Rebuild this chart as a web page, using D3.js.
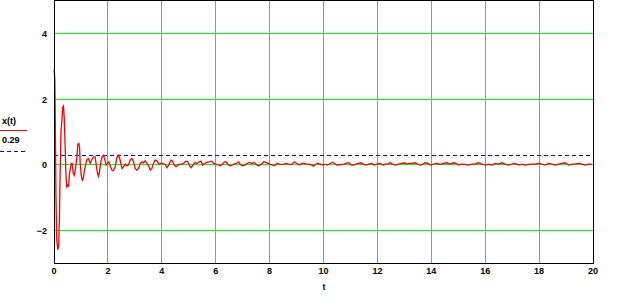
<!DOCTYPE html>
<html><head><meta charset="utf-8">
<script src="https://cdn.jsdelivr.net/npm/d3@7"></script>
<style>html,body{margin:0;padding:0;background:#fff;}svg{display:block;}text{font-family:"Liberation Sans",Arial,sans-serif;font-weight:bold;font-size:9px;fill:#000;}</style>
</head><body><svg id="c" width="633" height="307"></svg>
<script>
const tValues = [0,0.03,0.05,0.07,0.09,0.12,0.16,0.19,0.22,0.25,0.28,0.31,0.34,0.37,0.40,0.43,0.46,0.49,0.53,0.558,0.595,0.62,0.657,0.694,0.731,0.768,0.818,0.867,0.904,0.941,0.966,0.99,1.028,1.077,1.114,1.151,1.189,1.238,1.3,1.362,1.424,1.485,1.547,1.584,1.634,1.671,1.708,1.758,1.807,1.857,1.906,1.956,2.005,2.055,2.104,2.166,2.228,2.29,2.351,2.413,2.475,2.537,2.599,2.66,2.72,2.78,2.846,2.908,2.97,3.03,3.09,3.155,3.22,3.28,3.34,3.40,3.465,3.53,3.59,3.65,3.71,3.77,3.84,3.9,3.96,
4.02,4.15,4.21,4.27,4.36,4.42,4.48,4.55,4.64,4.73,4.83,4.91,4.98,5.05,5.11,5.17,5.26,5.32,5.41,5.47,5.54,5.61,5.69,5.79,5.88,5.94,6.04,6.13,6.19,6.25,6.34,6.41,6.47,6.56,6.68,6.78,6.87,6.93,7.02,7.09,7.18,7.26,7.36,7.45,7.52,7.61,7.71,7.80,7.88,7.96,8.04,8.13,8.2,8.29,8.38,8.54,8.64,8.72,8.85,8.93,9.03,9.12,
9.22,9.30,9.40,9.50,9.59,9.65,9.71,9.80,9.90,9.99,10.08,10.17,10.27,10.35,10.43,10.51,10.61,10.70,10.79,10.89,10.97,11.03,11.13,11.22,11.32,11.41,11.50,11.60,11.69,11.81,11.90,12.0,12.12,12.22,12.31,12.40,12.49,12.58,12.68,12.80,12.93,13.01,13.11,13.20,13.30,13.42,13.51,13.61,13.71,13.79,13.89,13.98,14.10,14.23,14.35,14.47,14.60,14.70,
14.84,14.94,15.03,15.15,15.28,15.40,15.52,15.65,15.77,15.90,16.02,16.14,16.27,16.39,16.51,16.64,16.76,16.88,17.01,17.13,17.26,17.38,17.50,17.63,17.75,17.87,18.0,18.12,18.25,18.37,18.49,18.62,18.74,18.86,18.99,19.11,19.24,19.36,19.48,19.61,19.73,19.85,19.98];
const xValues = [2.85,2.85,2.57,1.05,-0.86,-2.3,-2.6,-2.5,-1.65,-0.12,1.05,1.3,1.74,1.78,1.4,0.59,-0.27,-0.68,-0.63,-0.68,-0.27,-0.15,0.03,0.03,-0.27,-0.33,-0.12,0.23,0.62,0.64,0.54,0.03,-0.33,-0.51,-0.38,-0.17,-0.02,0.15,0.18,0.03,0.15,0.23,0.23,-0.02,-0.27,-0.36,-0.22,0.08,0.25,0.28,0.13,-0.02,0.03,0.08,-0.05,-0.17,-0.19,-0.07,0.21,0.28,0.13,-0.12,-0.07,0.01,-0.04,-0.02,0.13,0.18,0.08,-0.12,-0.17,-0.12,0.03,0.08,0.05,0.11,0.03,-0.04,-0.17,-0.12,0.03,0.13,0.11,0.01,0.03,
0.03,0,-0.1,-0.02,0.13,0.1,-0.02,-0.07,0,0,0.03,0.1,0.08,-0.04,-0.1,-0.02,0.06,0.03,0.08,0.1,-0.02,0.03,0.06,0.08,0.1,0.03,0,-0.02,-0.04,0,0.08,0.08,0,-0.04,0,0.03,0.08,0,-0.04,-0.02,0.03,0.06,0.03,0.06,0,-0.04,0,0.08,0.06,0.03,0,-0.02,-0.04,0.03,0.01,0,0.03,0,0,0.08,0.03,-0.02,
0.03,0.03,0,0.01,-0.02,-0.05,0,0.03,0.01,-0.02,0.01,-0.02,0.03,0.07,0.03,-0.02,-0.01,0,0.01,0.05,0.05,-0.01,-0.02,0.01,0.03,0.05,0.01,-0.02,0.01,0.03,-0.02,0.01,0.03,-0.02,0.01,0.01,0.05,0.01,-0.02,0.01,0.03,0.05,0.01,0.03,0.03,0.05,0.01,-0.02,0.01,0.05,0.03,-0.02,0.01,0.03,0,0.03,0.05,0.01,
0.05,0.03,-0.02,0.01,0,-0.02,0.01,0.01,0.05,0.01,-0.02,0.01,-0.02,0.03,0.01,0.05,0.01,-0.02,0.01,0.03,-0.02,0.01,-0.02,0,0.01,0.01,0.03,0.01,-0.02,0.03,0.01,-0.02,0.01,0.03,0.05,-0.02,0.01,0.01,0.03,0.01,-0.02,0.01,0];
const refLevel = 0.29;
const xTicks = [0,2,4,6,8,10,12,14,16,18,20];
const yTicks = [-2,0,2,4];
const xLabel = "t";
const legendLabels = ["x(t)", "0.29"];

const svg = d3.select("#c");
const x = d3.scaleLinear().domain([0,20]).range([53.5,592.5]);
const y = d3.scaleLinear().domain([-3,5]).range([262.8,0.5]);
const px = v => Math.round(x(v)) + 0.5;
const py = v => Math.round(y(v)) + 0.5;

// grid
const g = svg.append("g").attr("shape-rendering","crispEdges");
g.selectAll(".gx").data(xTicks.filter(d=>d>0&&d<20)).enter().append("line")
  .attr("x1",d=>px(d)).attr("x2",d=>px(d)).attr("y1",y(5)).attr("y2",y(-3))
  .attr("stroke","#00ff00").attr("stroke-width",1);
g.selectAll(".gy").data(yTicks).enter().append("line")
  .attr("x1",x(0)).attr("x2",x(20)).attr("y1",d=>py(d)).attr("y2",d=>py(d))
  .attr("stroke","#00ff00").attr("stroke-width",1);

// reference dashed line
svg.append("line").attr("x1",x(0)).attr("x2",x(20)).attr("y1",py(refLevel)).attr("y2",py(refLevel))
  .attr("shape-rendering","crispEdges")
  .attr("stroke","#0000ff").attr("stroke-width",1).attr("stroke-dasharray","4,3");

// signal
const data = tValues.map((t,i)=>[t,xValues[i]]);
svg.append("path").datum(data)
  .attr("d", d3.line().x(d=>x(d[0])).y(d=>y(d[1])))
  .attr("fill","none").attr("stroke","#ff0000").attr("stroke-width",1.3);

// frame
svg.append("rect").attr("x",px(0)).attr("y",0.5).attr("width",px(20)-px(0)).attr("height",py(-3)-0.5)
  .attr("shape-rendering","crispEdges")
  .attr("fill","none").attr("stroke","#000").attr("stroke-width",1);

// axes labels (using d3 axes)
const xAxis = d3.axisBottom(x).tickValues(xTicks).tickSize(0).tickPadding(0).tickFormat(d3.format("d"));
const xa = svg.append("g").attr("transform","translate(0,274)").call(xAxis);
xa.select(".domain").remove();
xa.selectAll("text").attr("dy",0).attr("font-family",null).attr("font-size",null);

const yAxis = d3.axisLeft(y).tickValues(yTicks).tickSize(0).tickPadding(0).tickFormat(d => d<0 ? "\u2212" + String(-d) : String(d));
const ya = svg.append("g").attr("transform","translate(47,0)").call(yAxis);
ya.select(".domain").remove();
ya.selectAll("text").attr("dy","0.35em").attr("font-family",null).attr("font-size",null);

svg.append("text").attr("x",324).attr("y",290).attr("text-anchor","middle").text(xLabel);

// legend
svg.append("text").attr("x",2).attr("y",124).text(legendLabels[0]);
svg.append("line").attr("x1",0).attr("x2",27).attr("y1",130.5).attr("y2",130.5).attr("shape-rendering","crispEdges").attr("stroke","#ff0000").attr("stroke-width",1);
svg.append("text").attr("x",2).attr("y",143).text(legendLabels[1]);
svg.append("line").attr("x1",0).attr("x2",27).attr("y1",151.5).attr("y2",151.5).attr("shape-rendering","crispEdges").attr("stroke","#0000ff").attr("stroke-width",1).attr("stroke-dasharray","4,3");
</script></body></html>
